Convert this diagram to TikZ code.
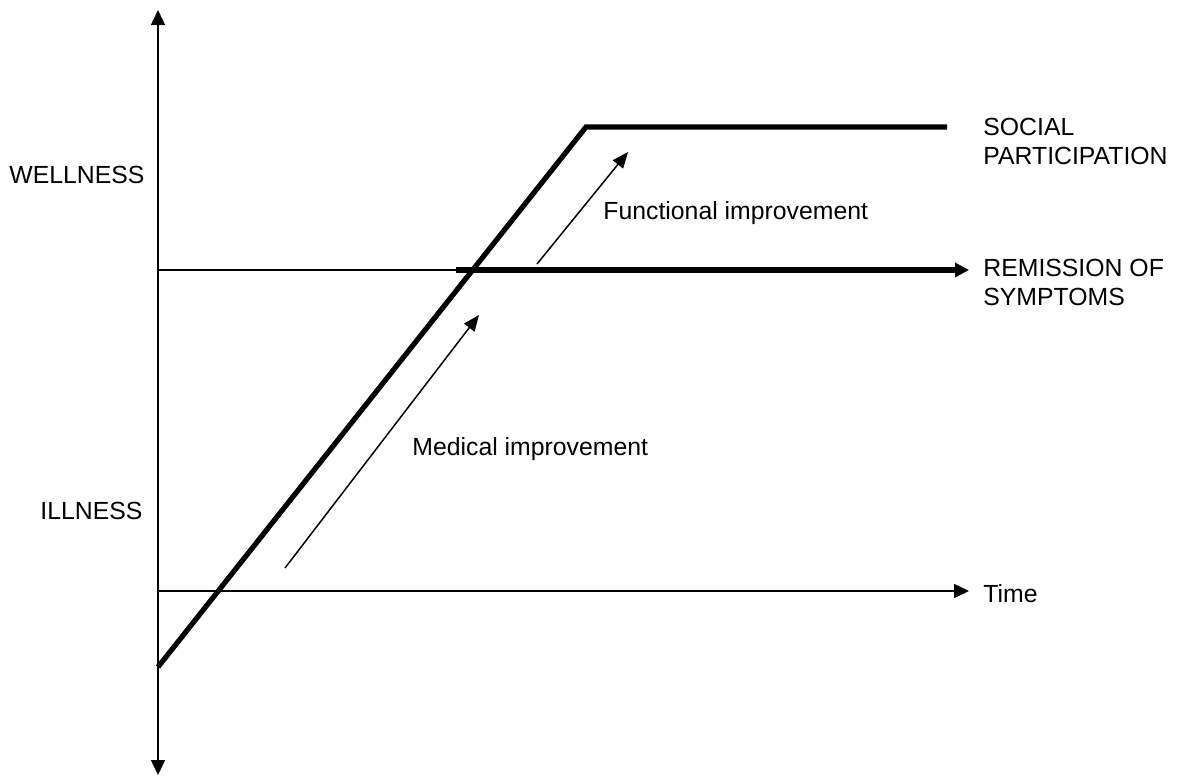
\documentclass[tikz,border=0pt]{standalone}
\usepackage{fontspec}
\setmainfont{Liberation Sans}
\usetikzlibrary{arrows.meta}
\begin{document}
\begin{tikzpicture}[x=0.5pt,y=-0.5pt,
  thin line/.style={line width=0.75pt, black},
  thick line/.style={line width=2.6pt, black},
  axisarrow/.style={-{Triangle[length=7.5pt,width=7pt]}},
  lbl/.style={inner sep=0pt, font=\fontsize{12.4}{14.5}\selectfont, align=left}]
\useasboundingbox (0,0) rectangle (1184,776);
% coordinates
\coordinate (vtop) at (158,10);
\coordinate (vbot) at (158,775);
\coordinate (o) at (158,591);
\coordinate (tend) at (969,591);
\coordinate (r0) at (158,270);
\coordinate (r1) at (456,270);
\coordinate (r2) at (969,270);
\coordinate (s0) at (158,667);
\coordinate (s1) at (586,127);
\coordinate (s2) at (947,127);
\coordinate (m0) at (285,568);
\coordinate (m1) at (479,315);
\coordinate (f0) at (537,264);
\coordinate (f1) at (628,152);
% axes
\draw[thin line, {Triangle[length=7.5pt,width=7pt]}-{Triangle[length=7.5pt,width=7pt]}] (vtop) -- (vbot);
\draw[thin line, axisarrow] (o) -- (tend);
\draw[thin line] (r0) -- (r1);
\draw[thick line, -{Triangle[length=7pt,width=7pt]}] (r1) -- (r2);
\draw[thick line, line join=miter] (s0) -- (s1) -- (s2);
% improvement arrows
\draw[thin line, -{Triangle[length=8pt,width=6.5pt]}] (m0) -- (m1);
\draw[thin line, -{Triangle[length=8pt,width=6.5pt]}] (f0) -- (f1);
% labels
\node[lbl, anchor=base west] (time) at (983,602) {Time};
\node[lbl, anchor=north west] (rem) at (983,259) {REMISSION OF\\SYMPTOMS};
\node[lbl, anchor=north west] (soc) at (983,118) {SOCIAL\\PARTICIPATION};
\node[lbl, anchor=base west] (well) at (9,183) {WELLNESS};
\node[lbl, anchor=base west] (ill) at (40,519) {ILLNESS};
\node[lbl, anchor=base west] (med) at (412,455) {Medical improvement};
\node[lbl, anchor=base west] (fun) at (603,219) {Functional improvement};
\end{tikzpicture}
\end{document}
